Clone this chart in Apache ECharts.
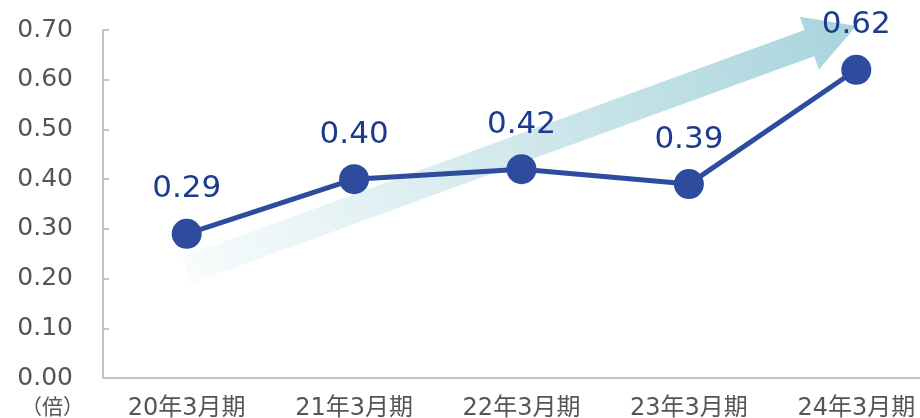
<!DOCTYPE html>
<html>
<head>
<meta charset="utf-8">
<script src="https://cdn.jsdelivr.net/npm/echarts@6/dist/echarts.min.js"></script>
<style>
  html, body { margin: 0; padding: 0; background: #fff; }
  #chart { width: 920px; height: 418px; }
</style>
</head>
<body>
<div id="chart"></div>
<script>
const categories = ["20年3月期", "21年3月期", "22年3月期", "23年3月期", "24年3月期"];
const values = [0.29, 0.40, 0.42, 0.39, 0.62];
const yTicks = [0, 0.1, 0.2, 0.3, 0.4, 0.5, 0.6, 0.7];
// trend arrow, in axis units: [category index, value]
const arrowFrom = [-0.2, 0.217];
const arrowTo = [3.96, 0.708];

const chart = echarts.init(document.getElementById("chart"));
const font = "'DejaVu Sans', 'Noto Sans CJK JP', sans-serif";

const renderArrow = (params, api) => {
  const a = api.coord(arrowFrom);
  const b = api.coord(arrowTo);
  const dx = b[0] - a[0], dy = b[1] - a[1];
  const len = Math.sqrt(dx * dx + dy * dy);
  const ux = dx / len, uy = dy / len;
  const nx = -uy, ny = ux;
  const hw = 14, headW = 28, headL = 50;
  const hx = b[0] - ux * headL, hy = b[1] - uy * headL;
  const pts = [
    [a[0] + nx * hw, a[1] + ny * hw],
    [hx + nx * hw, hy + ny * hw],
    [hx + nx * headW, hy + ny * headW],
    [b[0], b[1]],
    [hx - nx * headW, hy - ny * headW],
    [hx - nx * hw, hy - ny * hw],
    [a[0] - nx * hw, a[1] - ny * hw]
  ];
  return {
    type: "polygon",
    shape: { points: pts },
    style: {
      fill: new echarts.graphic.LinearGradient(a[0], a[1], b[0], b[1], [
        { offset: 0, color: "rgba(168,212,220,0.08)" },
        { offset: 1, color: "rgba(168,212,220,1)" }
      ], true)
    }
  };
};

chart.setOption({
  animation: false,
  grid: { left: 103, right: -20, top: 30, bottom: 40, outerBoundsMode: "none", containLabel: false },
  graphic: [{
    type: "text",
    left: 21,
    top: 396,
    style: { text: "（倍）", font: "21px 'Noto Sans CJK JP', sans-serif", fill: "#555" }
  }],
  xAxis: {
    type: "category",
    data: categories,
    axisLine: { lineStyle: { color: "#c4c4c4", width: 2 } },
    axisTick: { show: false },
    axisLabel: { fontSize: 24, color: "#555", fontFamily: font, margin: 19 }
  },
  yAxis: {
    type: "value",
    min: 0,
    max: 0.7,
    interval: 0.1,
    axisLine: { show: true, lineStyle: { color: "#c4c4c4", width: 2 } },
    axisTick: { show: true, inside: true, length: 6, lineStyle: { color: "#c4c4c4", width: 2 } },
    splitLine: { show: false },
    axisLabel: {
      fontSize: 25,
      color: "#555",
      fontFamily: font,
      margin: 30,
      formatter: v => v.toFixed(2)
    }
  },
  series: [
    {
      type: "custom",
      renderItem: renderArrow,
      data: [0],
      silent: true,
      z: 1
    },
    {
      type: "line",
      data: values,
      z: 3,
      lineStyle: { color: "#2e4c9e", width: 5 },
      itemStyle: { color: "#2e4c9e" },
      symbol: "circle",
      symbolSize: 30,
      label: {
        show: true,
        position: "top",
        distance: 14,
        fontSize: 31,
        color: "#1c3a8e",
        fontFamily: font,
        formatter: p => p.value.toFixed(2)
      }
    }
  ]
});
</script>
</body>
</html>
